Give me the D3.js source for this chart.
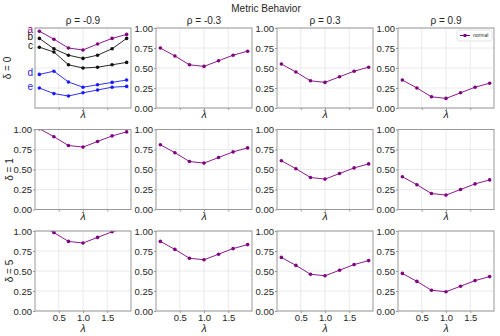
<!DOCTYPE html>
<html>
<head>
<meta charset="utf-8">
<script src="https://cdn.jsdelivr.net/npm/d3@7"></script>
<style>
body { margin: 0; background: #fff; }
text { font-family: "Liberation Sans", Arial, sans-serif; }
</style>
</head>
<body>
<svg id="mainSvg" width="500" height="336"></svg>
<script>
// lambda values on the x axis
let lambdas = [0.1, 0.4, 0.7, 1.0, 1.3, 1.6, 1.9];
let rhoLabels = ["-0.9", "-0.3", "0.3", "0.9"];
let deltaLabels = ["0", "1", "5"];
let yTicks = [0, 0.25, 0.5, 0.75, 1.0];
let xTicks = [0.5, 1.0, 1.5];

// "normal" series, one row per delta, one list per rho
let normalD0 = [
    [0.96, 0.86, 0.75, 0.725, 0.80, 0.87, 0.92],
    [0.75, 0.65, 0.54, 0.52, 0.59, 0.66, 0.71],
    [0.55, 0.45, 0.34, 0.32, 0.39, 0.46, 0.51],
    [0.35, 0.25, 0.14, 0.12, 0.19, 0.26, 0.31]
];
let normalD1 = [
    [1.01, 0.91, 0.80, 0.78, 0.85, 0.92, 0.97],
    [0.81, 0.71, 0.60, 0.58, 0.65, 0.72, 0.77],
    [0.61, 0.51, 0.40, 0.38, 0.45, 0.52, 0.57],
    [0.41, 0.31, 0.20, 0.18, 0.25, 0.32, 0.37]
];
let normalD5 = [
    [1.08, 0.98, 0.87, 0.85, 0.92, 0.99, 1.04],
    [0.87, 0.77, 0.66, 0.64, 0.71, 0.78, 0.83],
    [0.67, 0.57, 0.46, 0.44, 0.51, 0.58, 0.63],
    [0.47, 0.37, 0.26, 0.24, 0.31, 0.38, 0.43]
];
let normalAll = [normalD0, normalD1, normalD5];

// extra curves in the first panel
let curveB = [0.87, 0.74, 0.66, 0.62, 0.66, 0.74, 0.87];
let curveC = [0.76, 0.70, 0.54, 0.50, 0.51, 0.54, 0.57];
let curveD = [0.42, 0.46, 0.325, 0.26, 0.29, 0.32, 0.35];
let curveE = [0.25, 0.18, 0.15, 0.19, 0.225, 0.26, 0.27];
let extraCurves = [
    {name: "b", values: curveB, color: "#111111"},
    {name: "c", values: curveC, color: "#111111"},
    {name: "d", values: curveD, color: "#1a1aff"},
    {name: "e", values: curveE, color: "#1a1aff"}
];

const purple = "#800080";
const gridColor = "#e5e5e5";
const spineColor = "#999999";
const textColor = "#262626";

let svg = d3.select("#mainSvg");
let panelW = 96;
let panelH = 80;
let colLeft = [35, 156, 277, 398];
let rowTop = [28, 129.5, 231];

let x = d3.scaleLinear().domain([0.01, 1.99]).range([0, panelW]);
let y = d3.scaleLinear().domain([0, 1]).range([panelH, 0]);

svg.append("text")
    .attr("x", 266).attr("y", 12)
    .attr("text-anchor", "middle")
    .attr("font-size", 10)
    .attr("fill", textColor)
    .text("Metric Behavior");

function drawSeries(g, values, color) {
    let pts = lambdas.map((l, i) => ({x: l, y: values[i]}));
    let line = d3.line().x(d => x(d.x)).y(d => y(d.y));
    g.append("path")
        .attr("d", line(pts))
        .attr("fill", "none")
        .attr("stroke", color)
        .attr("stroke-width", 0.9);
    g.selectAll(null)
        .data(pts)
        .enter()
            .append("circle")
            .attr("cx", d => x(d.x))
            .attr("cy", d => y(d.y))
            .attr("r", 1.8)
            .attr("fill", color);
}

deltaLabels.forEach((dl, r) => {
    rhoLabels.forEach((rl, c) => {
        let g = svg.append("g")
            .attr("transform", "translate(" + colLeft[c] + "," + rowTop[r] + ")");
        let clipId = "clip" + r + c;
        g.append("clipPath").attr("id", clipId)
            .append("rect").attr("width", panelW).attr("height", panelH);

        // grid
        g.selectAll(null).data(xTicks).enter()
            .append("line")
            .attr("x1", d => x(d)).attr("x2", d => x(d))
            .attr("y1", 0).attr("y2", panelH)
            .attr("stroke", gridColor).attr("stroke-width", 0.8);
        g.selectAll(null).data(yTicks).enter()
            .append("line")
            .attr("x1", 0).attr("x2", panelW)
            .attr("y1", d => y(d)).attr("y2", d => y(d))
            .attr("stroke", gridColor).attr("stroke-width", 0.8);

        // axes
        let xAxis = d3.axisBottom(x).tickValues(xTicks).tickSize(2).tickPadding(1.5)
            .tickFormat(r === 2 ? d3.format(".1f") : "");
        let xg = g.append("g").attr("transform", "translate(0," + panelH + ")").call(xAxis);
        xg.select(".domain").remove();
        xg.selectAll("line").attr("stroke", spineColor);
        xg.selectAll("text").attr("font-size", 9.5).attr("fill", textColor)
            .attr("font-family", "Liberation Sans, Arial, sans-serif");

        if (!(r === 0 && c === 0)) {
            let yAxis = d3.axisLeft(y).tickValues(yTicks).tickSize(2).tickPadding(1)
                .tickFormat(d3.format(".2f"));
            let yg = g.append("g").call(yAxis);
            yg.select(".domain").remove();
            yg.selectAll("line").attr("stroke", spineColor);
            yg.selectAll("text").attr("font-size", 9.5).attr("fill", textColor)
                .attr("font-family", "Liberation Sans, Arial, sans-serif");
        }

        // series
        let plot = g.append("g").attr("clip-path", "url(#" + clipId + ")");
        if (r === 0 && c === 0) {
            extraCurves.forEach(cv => drawSeries(plot, cv.values, cv.color));
        }
        drawSeries(plot, normalAll[r][c], purple);

        // frame
        g.append("rect")
            .attr("width", panelW).attr("height", panelH)
            .attr("fill", "none")
            .attr("stroke", spineColor).attr("stroke-width", 1);

        // x label
        g.append("text")
            .attr("x", x(1.0))
            .attr("y", panelH + (r === 2 ? 21 : 10))
            .attr("text-anchor", "middle")
            .attr("font-size", 10.5)
            .attr("font-style", "italic")
            .attr("fill", textColor)
            .text("λ");

        if (r === 0) {
            g.append("text")
                .attr("x", panelW / 2).attr("y", -4)
                .attr("text-anchor", "middle")
                .attr("font-size", 10)
                .attr("fill", textColor)
                .text("ρ = " + rl);
        }
        if (c === 0) {
            g.append("text")
                .attr("transform", "translate(" + (r === 0 ? -24 : -22) + "," + panelH / 2 + ") rotate(-90)")
                .attr("text-anchor", "middle")
                .attr("font-size", 10)
                .attr("fill", textColor)
                .text("δ = " + dl);
        }
        if (r === 0 && c === 0) {
            let letters = [{t: "a", v: normalD0[0][0], color: purple}]
                .concat(extraCurves.map(cv => ({t: cv.name, v: cv.values[0], color: cv.color})));
            g.selectAll(null).data(letters).enter()
                .append("text")
                .attr("x", -2)
                .attr("y", d => y(d.v))
                .attr("dy", "0.2em")
                .attr("text-anchor", "end")
                .attr("font-size", 10)
                .attr("fill", d => d.color)
                .text(d => d.t);
        }
        if (r === 0 && c === 3) {
            let lg = g.append("g").attr("transform", "translate(" + (panelW - 37) + ",2)");
            lg.append("rect").attr("width", 35).attr("height", 11).attr("rx", 2)
                .attr("fill", "#fff").attr("stroke", "#d0d0d0").attr("stroke-width", 0.6);
            lg.append("line").attr("x1", 3).attr("x2", 13).attr("y1", 5.5).attr("y2", 5.5)
                .attr("stroke", purple).attr("stroke-width", 1);
            lg.append("circle").attr("cx", 8).attr("cy", 5.5).attr("r", 1.8).attr("fill", purple);
            lg.append("text").attr("x", 16).attr("y", 7.3).attr("font-size", 5)
                .attr("fill", textColor).text("normal");
        }
    });
});
</script>
</body>
</html>
